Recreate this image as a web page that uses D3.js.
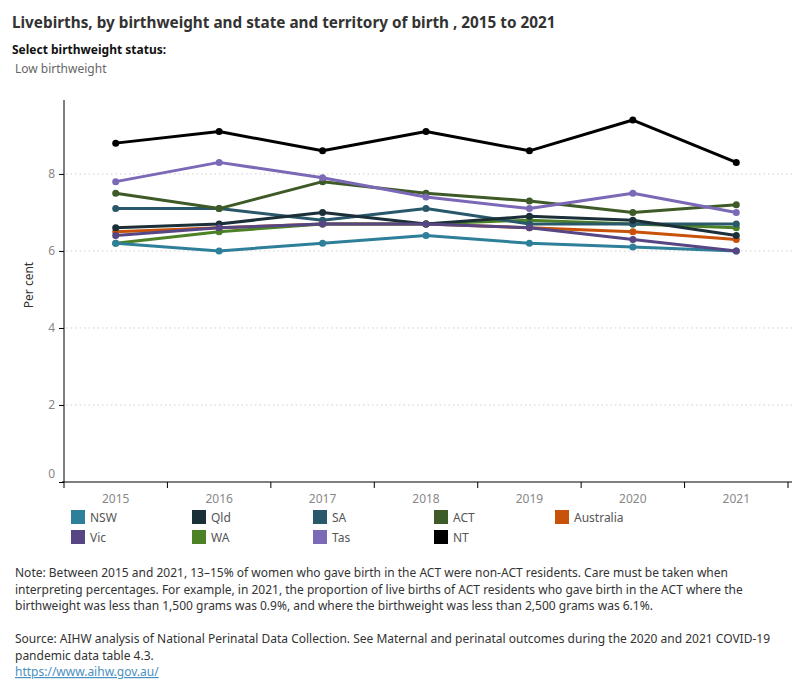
<!DOCTYPE html>
<head>
<meta charset="utf-8">
<title>Livebirths, by birthweight and state and territory of birth</title>
<script src="https://d3js.org/d3.v7.min.js"></script>
<style>
body { margin: 0; background: #fff; font-family: "Noto Sans", sans-serif; }
.grid line { stroke: #cfcfcf; stroke-dasharray: 1.5,3; }
.axis path, .axis line { stroke: #000; }
.axis text { fill: #888; font-size: 12px; font-family: "Noto Sans", sans-serif; }
.serie { fill: none; stroke-width: 3; stroke-linejoin: round; }
.note { fill: #333; font-size: 12px; }
</style>
</head>
<body>
<div id="container"></div>
<script>

//------------------------DATA-------------------------//

const years = ["2015", "2016", "2017", "2018", "2019", "2020", "2021"];
const regions = ["NSW", "Qld", "SA", "ACT", "Australia", "Vic", "WA", "Tas", "NT"];
const colours = ["#2e7f99", "#1b2f38", "#28586a", "#3d5a27", "#c8520a", "#574684", "#4c8125", "#7b68b6", "#000000"];

const nsw       = [6.2, 6.0, 6.2, 6.4, 6.2, 6.1, 6.0];
const qld       = [6.6, 6.7, 7.0, 6.7, 6.9, 6.8, 6.4];
const sa        = [7.1, 7.1, 6.8, 7.1, 6.7, 6.7, 6.7];
const act       = [7.5, 7.1, 7.8, 7.5, 7.3, 7.0, 7.2];
const australia = [6.5, 6.6, 6.7, 6.7, 6.6, 6.5, 6.3];
const vic       = [6.4, 6.6, 6.7, 6.7, 6.6, 6.3, 6.0];
const wa        = [6.2, 6.5, 6.7, 6.7, 6.8, 6.7, 6.6];
const tas       = [7.8, 8.3, 7.9, 7.4, 7.1, 7.5, 7.0];
const nt        = [8.8, 9.1, 8.6, 9.1, 8.6, 9.4, 8.3];

const yTicks = [0, 2, 4, 6, 8];

const seriesValues = [nsw, qld, sa, act, australia, vic, wa, tas, nt];
// drawing order (last on top)
const drawOrder = ["Australia", "WA", "NSW", "SA", "Qld", "ACT", "Vic", "Tas", "NT"];

const slices = regions.map(function(r, i) {
    return {
        name: r,
        colour: colours[i],
        values: years.map(function(y, j) { return {ano: y, valor: seriesValues[i][j]}; })
    };
});

//------------------------SVG-------------------------//

const W = 800, H = 700;
const margin = {top: 100, left: 64, right: 8, bottom: 218};
const width = W - margin.left - margin.right,
      height = H - margin.top - margin.bottom;

const root = d3.select("#container").append("svg")
    .attr("width", W).attr("height", H);

const svg = root.append("g")
    .attr("transform", "translate(" + margin.left + "," + margin.top + ")");

//----------------------SCALES------------------------//

const xScale = d3.scaleBand().domain(years).range([0, width - 4]);
const yScale = d3.scaleLinear().domain([0, 9.92]).range([height, 0]);
const xc = function(y) { return xScale(y) + xScale.bandwidth() / 2; };

//-----------------------GRID--------------------------//

svg.append("g").attr("class", "grid")
    .selectAll("line")
    .data(yTicks.filter(function(d) { return d > 0; }))
    .enter().append("line")
    .attr("x1", 2).attr("x2", width)
    .attr("y1", function(d) { return yScale(d); })
    .attr("y2", function(d) { return yScale(d); });

//-----------------------AXES--------------------------//

const yaxis = d3.axisLeft(yScale).tickValues(yTicks).tickSize(5).tickPadding(4);
const gy = svg.append("g").attr("class", "axis").call(yaxis);
gy.select(".domain").attr("d", "M0,0V" + height);
// bottom label sits just above the axis line
gy.selectAll(".tick text").filter(function(d) { return d === 0; }).attr("dy", "-0.35em");

const xaxis = d3.axisBottom(xScale).tickSize(0).tickPadding(12);
const gx = svg.append("g").attr("class", "axis")
    .attr("transform", "translate(0," + height + ")")
    .call(xaxis);
gx.select(".domain").attr("d", "M-2,0H" + width);
gx.selectAll(".bound")
    .data(years.concat(["end"]))
    .enter().append("line")
    .attr("class", "bound")
    .attr("x1", function(d, i) { return i * xScale.step(); })
    .attr("x2", function(d, i) { return i * xScale.step(); })
    .attr("y1", 0).attr("y2", 6);

svg.append("text")
    .attr("transform", "translate(-31," + (height / 2 - 6) + ") rotate(-90)")
    .attr("text-anchor", "middle")
    .style("font-size", "12px")
    .style("fill", "#333")
    .text("Per cent");

//-----------------------LINES-------------------------//

const line = d3.line()
    .x(function(d) { return xc(d.ano); })
    .y(function(d) { return yScale(d.valor); });

const ordered = drawOrder.map(function(n) {
    return slices.find(function(s) { return s.name === n; });
});

const lines = svg.selectAll(".lines")
    .data(ordered)
    .enter().append("g");

lines.append("path")
    .attr("class", "serie")
    .attr("stroke", function(d) { return d.colour; })
    .attr("d", function(d) { return line(d.values); });

lines.selectAll("circle")
    .data(function(d) { return d.values.map(function(v) { return {v: v, c: d.colour}; }); })
    .enter().append("circle")
    .attr("cx", function(d) { return xc(d.v.ano); })
    .attr("cy", function(d) { return yScale(d.v.valor); })
    .attr("r", 3.5)
    .attr("fill", function(d) { return d.c; });

//-----------------------LEGEND------------------------//

const legend = root.append("g").attr("transform", "translate(71,510)");
const item = legend.selectAll("g")
    .data(slices)
    .enter().append("g")
    .attr("transform", function(d, i) {
        return "translate(" + ((i % 5) * 121) + "," + (Math.floor(i / 5) * 20) + ")";
    });
item.append("rect")
    .attr("width", 14).attr("height", 14)
    .attr("fill", function(d) { return d.colour; });
item.append("text")
    .attr("x", 19).attr("y", 12)
    .style("font-size", "12px")
    .style("fill", "#555")
    .text(function(d) { return d.name; });

//-----------------------TITLES------------------------//

root.append("text")
    .attr("x", 12).attr("y", 28)
    .style("font-size", "15.3px").style("font-weight", "bold").style("fill", "#333")
    .text("Livebirths, by birthweight and state and territory of birth , 2015 to 2021");

root.append("text")
    .attr("x", 12).attr("y", 54)
    .style("font-size", "12px").style("font-weight", "bold").style("fill", "#111")
    .text("Select birthweight status:");

root.append("text")
    .attr("x", 15).attr("y", 73)
    .style("font-size", "12px").style("fill", "#666")
    .text("Low birthweight");

//-----------------------NOTES-------------------------//

const notes = [
    "Note: Between 2015 and 2021, 13\u201315% of women who gave birth in the ACT were non-ACT residents. Care must be taken when",
    "interpreting percentages. For example, in 2021, the proportion of live births of ACT residents who gave birth in the ACT where the",
    "birthweight was less than 1,500 grams was 0.9%, and where the birthweight was less than 2,500 grams was 6.1%.",
    "",
    "Source: AIHW analysis of National Perinatal Data Collection. See Maternal and perinatal outcomes during the 2020 and 2021 COVID-19",
    "pandemic data table  4.3."
];

root.selectAll(".note")
    .data(notes)
    .enter().append("text")
    .attr("class", "note")
    .attr("x", 15)
    .attr("y", function(d, i) { return 577 + i * 16.5; })
    .text(function(d) { return d; });

root.append("text")
    .attr("x", 15).attr("y", 676)
    .style("font-size", "12px").style("fill", "#4a90c0")
    .style("text-decoration", "underline")
    .text("https://www.aihw.gov.au/");

</script>
</body>
